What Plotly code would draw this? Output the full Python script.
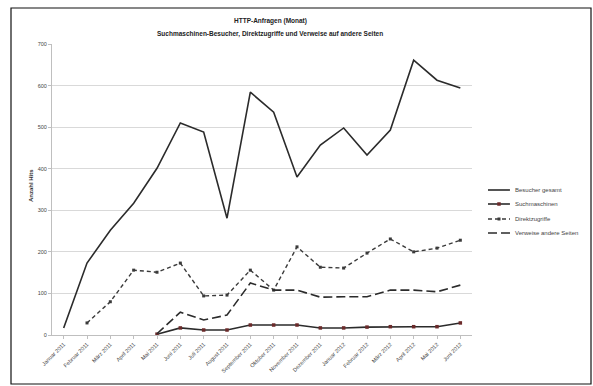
import plotly.graph_objects as go

# Monthly categories on the x axis
months = [
    "Januar 2011", "Februar 2011", "März 2011", "April 2011", "Mai 2011", "Juni 2011",
    "Juli 2011", "August 2011", "September 2011", "Oktober 2011", "November 2011",
    "Dezember 2011", "Januar 2012", "Februar 2012", "März 2012", "April 2012",
    "Mai 2012", "Juni 2012",
]

# Series values per month (None = no data for that month)
gesamt = [17, 173, 252, 317, 401, 510, 488, 281, 584, 536, 380, 457, 498, 433, 493, 661, 613, 594]
suchmaschinen = [None, 29, 80, 156, 151, 173, 94, 96, 156, 108, 212, 163, 161, 197, 231, 200, 209, 228]
verweise = [None, None, None, None, 3, 55, 36, 48, 125, 108, 108, 91, 92, 92, 108, 108, 104, 120]
direkt = [None, None, None, None, 2, 17, 12, 12, 24, 24, 24, 17, 17, 19, 20, 20, 20, 29]

names = ["Besucher gesamt", "Suchmaschinen", "Direktzugriffe", "Verweise andere Seiten"]
y_ticks = [0, 100, 200, 300, 400, 500, 600, 700]

FONT = "Liberation Sans"
W, H = 593, 386
L, R, T, B = 52, 121, 44, 51

DARK = "#2b2b2b"
MARK_RED = "#6b2a2a"

styles = [
    dict(line=dict(color=DARK, width=1.6), marker=None),
    dict(line=dict(color=DARK, width=1.6), marker=dict(color=MARK_RED, size=3.5, symbol="square")),
    dict(line=dict(color="#3a3a3a", width=1.4, dash="4px,3px"),
         marker=dict(color="#3a3a3a", size=3, symbol="square")),
    dict(line=dict(color=DARK, width=1.6, dash="9px,4px"), marker=None),
]
series = [gesamt, direkt, suchmaschinen, verweise]

fig = go.Figure()
for name, values, st in zip(names, series, styles):
    kw = dict(x=months, y=values, name=name, line=st["line"], showlegend=False)
    if st["marker"]:
        kw.update(mode="lines+markers", marker=st["marker"])
    else:
        kw.update(mode="lines")
    fig.add_trace(go.Scatter(**kw))

pw = W - L - R
ph = H - T - B


def px_x(v):
    return (v - L) / pw


def px_y(v):
    return (H - B - v) / ph


shapes = [dict(
    type="rect", xref="paper", yref="paper",
    x0=px_x(11), x1=px_x(591), y0=px_y(384), y1=px_y(8),
    line=dict(color="#111111", width=1.2), fillcolor="rgba(0,0,0,0)", layer="below",
)]
annotations = [
    dict(text="<b>HTTP-Anfragen (Monat)</b>", xref="paper", yref="paper",
         x=px_x(270), y=px_y(15), showarrow=False, font=dict(size=6.5, color="#222222")),
    dict(text="<b>Suchmaschinen-Besucher, Direktzugriffe und Verweise auf andere Seiten</b>",
         xref="paper", yref="paper", x=px_x(270), y=px_y(28), showarrow=False,
         font=dict(size=6.5, color="#222222")),
    dict(text="<b>Anzahl Hits</b>", xref="paper", yref="paper", x=px_x(26), y=px_y(186),
         textangle=-90, showarrow=False, font=dict(size=6, color="#333333")),
]

# Compact legend drawn beside the plot area
leg_x0, leg_x1, leg_text = 488, 510, 513
leg_rows = [190, 204, 219, 233]
for name, st, row in zip(names, styles, leg_rows):
    ln = st["line"]
    shapes.append(dict(
        type="line", xref="paper", yref="paper",
        x0=px_x(leg_x0), x1=px_x(leg_x1), y0=px_y(row), y1=px_y(row),
        line=dict(color=ln["color"], width=ln["width"], dash=ln.get("dash", "solid")),
    ))
    if st["marker"]:
        s = st["marker"]["size"] / 2
        cx = (leg_x0 + leg_x1) / 2
        shapes.append(dict(
            type="rect", xref="paper", yref="paper",
            x0=px_x(cx - s), x1=px_x(cx + s), y0=px_y(row + s), y1=px_y(row - s),
            line=dict(width=0), fillcolor=st["marker"]["color"],
        ))
    annotations.append(dict(
        text=name, xref="paper", yref="paper", x=px_x(leg_text), y=px_y(row),
        xanchor="left", yanchor="middle", showarrow=False,
        font=dict(size=6, color="#444444"),
    ))

fig.update_layout(
    width=W, height=H,
    margin=dict(l=L, r=R, t=T, b=B, pad=0),
    paper_bgcolor="white", plot_bgcolor="white",
    font=dict(family=FONT, size=6, color="#333333"),
    showlegend=False,
    xaxis=dict(
        type="category", range=[-0.5, len(months) - 0.5],
        tickangle=-45, tickfont=dict(size=5.5, color="#444444"),
        showgrid=False, showline=True, linecolor="#bfbfbf", linewidth=1,
        ticks="outside", ticklen=3, tickcolor="#bfbfbf",
    ),
    yaxis=dict(
        range=[0, 700], tickvals=y_ticks, tickfont=dict(size=5.5, color="#444444"),
        showgrid=True, gridcolor="#d9d9d9", gridwidth=1,
        showline=True, linecolor="#bfbfbf", linewidth=1,
        ticks="outside", ticklen=3, tickcolor="#bfbfbf", zeroline=False,
    ),
    shapes=shapes,
    annotations=annotations,
)

fig.write_html("out.html")
